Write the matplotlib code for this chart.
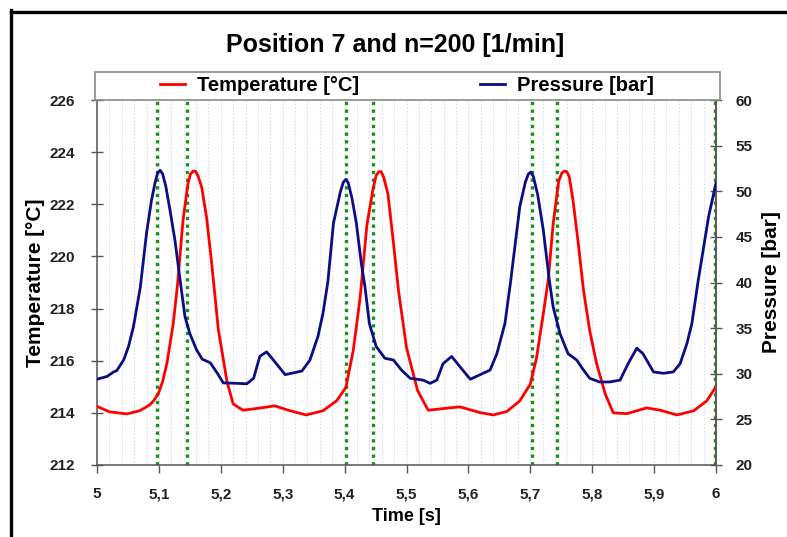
import numpy as np
import matplotlib.pyplot as plt
from matplotlib.lines import Line2D
from matplotlib.patches import Rectangle
from matplotlib.ticker import MultipleLocator

plt.rcParams['font.family'] = ['Liberation Sans', 'DejaVu Sans']
plt.rcParams['font.weight'] = 'bold'

# temperature curve [s, degC]
t_temp = [5.000, 5.020, 5.048, 5.069, 5.085, 5.091, 5.099, 5.106, 5.113, 5.123, 5.130, 5.139,
          5.147, 5.151, 5.155, 5.159, 5.163, 5.169, 5.177, 5.185, 5.196, 5.210, 5.220, 5.236, 5.268, 5.287,
          5.312, 5.338, 5.365, 5.387, 5.402, 5.414, 5.425, 5.436, 5.446, 5.451, 5.455, 5.459, 5.463, 5.470,
          5.479, 5.487, 5.500, 5.518, 5.535, 5.554, 5.586, 5.619, 5.640, 5.662, 5.683, 5.700,
          5.710, 5.721, 5.729, 5.737, 5.746, 5.751, 5.755, 5.759, 5.763, 5.769, 5.777, 5.786, 5.796, 5.807,
          5.821, 5.834, 5.856, 5.888, 5.910, 5.937, 5.964, 5.985, 6.000]
temperature = [214.25, 214.04, 213.96, 214.08, 214.30, 214.45, 214.73, 215.20, 215.90, 217.40, 218.90, 221.40,
               222.80, 223.15, 223.27, 223.27, 223.10, 222.67, 221.50, 219.80, 217.20, 215.20, 214.34, 214.10, 214.20, 214.27,
               214.08, 213.92, 214.08, 214.46, 214.97, 216.40, 218.40, 221.20, 222.60, 223.10, 223.25, 223.25, 223.05, 222.40,
               220.50, 218.70, 216.50, 214.85, 214.10, 214.15, 214.23, 214.01, 213.92, 214.05, 214.46, 215.10,
               216.10, 217.80, 219.10, 221.27, 222.90, 223.20, 223.27, 223.25, 223.05, 222.15, 220.60, 218.70, 217.15, 215.90,
               214.73, 214.00, 213.97, 214.19, 214.10, 213.92, 214.08, 214.46, 215.00]

# pressure curve [s, bar]
t_pres = [5.000, 5.016, 5.027, 5.032, 5.043, 5.051, 5.059, 5.070, 5.080, 5.088, 5.094, 5.098, 5.102, 5.106,
          5.111, 5.118, 5.126, 5.134, 5.142, 5.150, 5.161, 5.170, 5.183, 5.194, 5.204, 5.226,
          5.242, 5.253, 5.263, 5.274, 5.285, 5.304, 5.331, 5.344, 5.357, 5.365, 5.373, 5.382,
          5.393, 5.398, 5.402, 5.406, 5.412, 5.419, 5.427, 5.433, 5.440, 5.451, 5.465, 5.479, 5.492, 5.506,
          5.527, 5.538, 5.549, 5.559, 5.573, 5.586, 5.603, 5.619, 5.635, 5.646, 5.659, 5.668,
          5.683, 5.692, 5.697, 5.701, 5.705, 5.712, 5.721, 5.731, 5.737, 5.748, 5.761, 5.775, 5.786, 5.796,
          5.812, 5.828, 5.845, 5.858, 5.872, 5.882, 5.899, 5.915, 5.931, 5.942, 5.953, 5.961,
          5.971, 5.988, 6.000]
pressure = [29.4, 29.7, 30.2, 30.35, 31.5, 33.0, 35.2, 39.5, 45.4, 49.0, 51.0, 52.0, 52.3, 51.9,
            50.6, 47.9, 44.6, 40.4, 36.3, 34.4, 32.6, 31.6, 31.2, 30.1, 29.0, 28.95,
            28.9, 29.5, 31.9, 32.4, 31.5, 29.9, 30.3, 31.5, 34.1, 36.6, 40.1, 46.5,
            49.9, 51.0, 51.3, 50.9, 49.2, 46.5, 42.1, 39.5, 35.5, 33.0, 31.7, 31.5, 30.4, 29.5,
            29.3, 28.95, 29.3, 31.1, 31.9, 30.8, 29.4, 29.9, 30.4, 32.2, 35.5, 40.0,
            48.3, 51.0, 51.9, 52.1, 51.6, 49.6, 45.75, 40.1, 37.3, 34.4, 32.2, 31.5, 30.4, 29.5,
            29.1, 29.1, 29.3, 31.1, 32.8, 32.2, 30.2, 30.05, 30.2, 31.1, 33.3, 35.5,
            40.1, 47.2, 50.9]

# green marker lines
markers = [5.097, 5.146, 5.403, 5.446, 5.702, 5.743, 5.998]

x_ticks = [5.0, 5.1, 5.2, 5.3, 5.4, 5.5, 5.6, 5.7, 5.8, 5.9, 6.0]
x_tick_labels = ['5', '5,1', '5,2', '5,3', '5,4', '5,5', '5,6', '5,7', '5,8', '5,9', '6']

W, H = 787, 537
fig = plt.figure(figsize=(W / 100, H / 100), dpi=100)
ax = fig.add_axes([97 / W, 1 - 465 / H, (716 - 97) / W, (465 - 100) / H])
ax2 = ax.twinx()

ax.set_xlim(5, 6)
ax.set_ylim(212, 226)
ax2.set_ylim(20, 60)

# light background grid
ax.xaxis.set_minor_locator(MultipleLocator(0.02))
ax.grid(which='both', axis='x', color='#dadded', linestyle=(0, (1.5, 1.5)), linewidth=0.8)
ax.set_axisbelow(True)

for m in markers:
    ax.axvline(m, color='#179317', linestyle=(0, (1, 1.3)), linewidth=2.4, zorder=2)

l1, = ax.plot(t_temp, temperature, color='#ff0000', linewidth=2.0, solid_joinstyle='round', zorder=3)
l2, = ax2.plot(t_pres, pressure, color='#0c0c85', linewidth=2.0, solid_joinstyle='round', zorder=3)

ax.set_xticks(x_ticks)
ax.set_xticklabels(x_tick_labels)
ax.set_yticks(np.arange(212, 227, 2))
ax2.set_yticks(np.arange(20, 61, 5))

for a in (ax, ax2):
    for s in a.spines.values():
        s.set_color('#555555')
        s.set_linewidth(1.1)
    a.spines['top'].set_visible(False)
ax2.spines['left'].set_visible(False)
ax2.spines['bottom'].set_visible(False)

ax.tick_params(axis='x', which='major', direction='out', length=6, width=1, color='#555555',
               labelsize=11, labelcolor='#222222', pad=10)
ax.tick_params(axis='x', which='minor', length=0)
ax.tick_params(axis='y', direction='inout', length=8, width=1, color='#555555',
               labelsize=11, labelcolor='#222222', pad=12)
ax2.tick_params(axis='y', direction='inout', length=8, width=1, color='#555555',
                labelsize=11, labelcolor='#222222', pad=10)

ax.set_xlabel('Time [s]', fontsize=13, fontweight='bold', labelpad=5)
ax.set_ylabel('Temperature [°C]', fontsize=15, fontweight='bold')
ax2.set_ylabel('Pressure [bar]', fontsize=15, fontweight='bold')
ax.yaxis.set_label_coords(-0.084, 0.5)
ax2.yaxis.set_label_coords(1.074, 0.5)

fig.text(395 / W, 1 - 45 / H, 'Position 7 and n=200 [1/min]', ha='center', va='center',
         fontsize=18, fontweight='bold')

# legend box above the plot
fig.add_artist(Rectangle((95 / W, 1 - 100 / H), (720 - 95) / W, 28 / H, transform=fig.transFigure,
                         facecolor='white', edgecolor='#8a8a8a', linewidth=1.2))
fig.legend([l1, l2], ['Temperature [°C]', 'Pressure [bar]'], loc='center',
           bbox_to_anchor=(407 / W, 1 - 86 / H), ncol=2, frameon=False,
           prop={'size': 14.5, 'weight': 'bold'}, handlelength=1.25, handletextpad=0.6,
           columnspacing=6.0)

# black frame on top and left edge
fig.add_artist(Line2D([11 / W, 1.0], [1 - 11.5 / H, 1 - 11.5 / H], transform=fig.transFigure,
                      color='black', linewidth=2.4))
fig.add_artist(Line2D([11 / W, 11 / W], [0, 1 - 10 / H], transform=fig.transFigure,
                      color='black', linewidth=2.4))

fig.savefig('out.png', dpi=100)
